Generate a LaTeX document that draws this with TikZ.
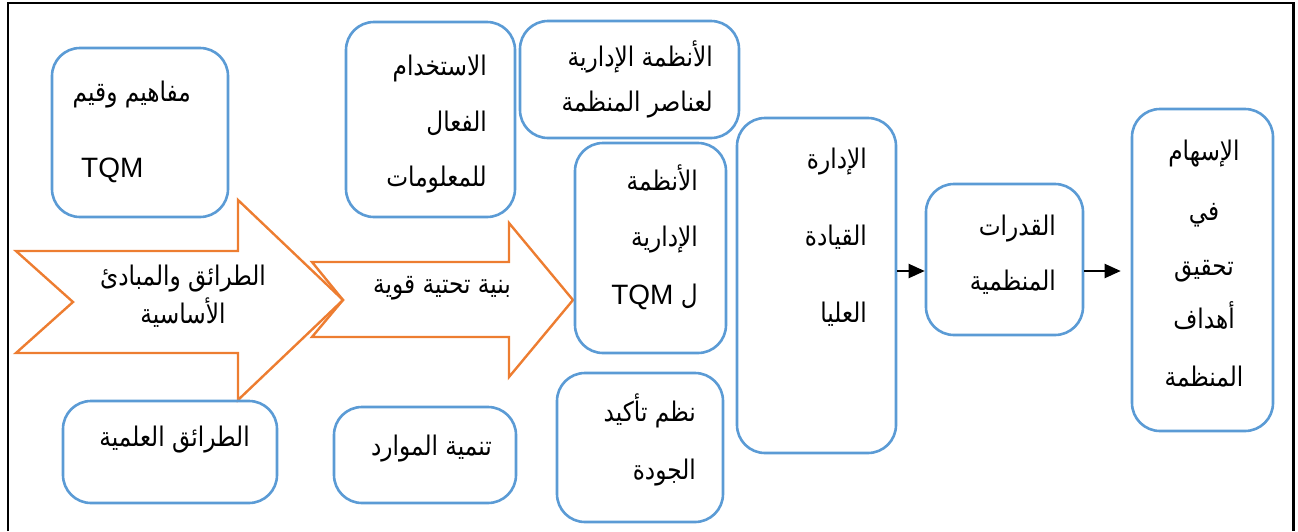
\documentclass[tikz,border=0pt]{standalone}
\usepackage{fontspec}
\setmainfont{Liberation Sans}
\newfontfamily\arabicfont[Script=Arabic, FakeStretch=0.86]{DejaVu Sans}
\TeXXeTstate=1
\usetikzlibrary{arrows.meta}
\definecolor{boxblue}{HTML}{5B9BD5}
\definecolor{arroworange}{HTML}{ED7D31}
% one right-to-left line of Arabic text
\newcommand{\artext}[1]{{\arabicfont\beginR #1\endR}}

\begin{document}
\begin{tikzpicture}[x=1pt,y=-1pt,
  box/.style={draw=boxblue, line width=2.6pt, rounded corners=28pt, rectangle, inner sep=0pt},
  lbl/.style={inner sep=0pt, text height=0.8em, text depth=0.2em, font=\fontsize{27}{31}\selectfont},
  latinlbl/.style={inner sep=0pt, text height=0.72em, text depth=0pt, font=\fontsize{28}{32}\selectfont},
  flowarrow/.style={draw=arroworange, line width=2.4pt, line join=miter},
  conn/.style={draw=black, line width=2pt, -{Triangle[length=16pt,width=14pt]}},
  frameline/.style={draw=black, line width=2.2pt}]

\useasboundingbox (0,0) rectangle (1298,531);

% outer frame (open at the bottom)
\draw[frameline] (7.7,531) -- (7.7,3.3) -- (1293.5,3.3) -- (1293.5,531);

% the two notched block arrows
\draw[flowarrow] (312,262) -- (509,262) -- (509,223) -- (573,300) -- (509,377)
  -- (509,337) -- (312,337) -- (343,300) -- cycle;
\draw[flowarrow] (16,251) -- (238,251) -- (238,200) -- (343,300) -- (238,400)
  -- (238,353) -- (16,353) -- (73,302) -- cycle;
\node[lbl] (a1l1) at (183,282) {\artext{الطرائق والمبادئ}};
\node[lbl] (a1l2) at (183,320) {\artext{الأساسية}};
\node[lbl] (a2l1) at (442,290) {\artext{بنية تحتية قوية}};

% rounded boxes
\node[box, minimum width=176pt, minimum height=169pt] (b1) at (140,132.5) {};
\node[box, minimum width=169pt, minimum height=195pt] (b2) at (430.5,119.5) {};
\node[box, minimum width=219pt, minimum height=117pt] (b3) at (629.5,79.5) {};
\node[box, minimum width=151pt, minimum height=210pt] (b4) at (650.5,248) {};
\node[box, minimum width=159pt, minimum height=335pt] (b5) at (816.5,285.5) {};
\node[box, minimum width=157pt, minimum height=151pt] (b6) at (1004.5,259.5) {};
\node[box, minimum width=141pt, minimum height=322pt] (b7) at (1202.5,270) {};
\node[box, minimum width=214pt, minimum height=102pt] (b8) at (170,452) {};
\node[box, minimum width=182pt, minimum height=96pt] (b9) at (425,455) {};
\node[box, minimum width=166pt, minimum height=149pt] (b10) at (640,447.5) {};

% box texts
\node[lbl, anchor=east] (b1l1) at (191,98) {\artext{مفاهيم وقيم}};
\node[latinlbl, anchor=west] (b1l2) at (81,174) {TQM};

\node[lbl, anchor=east] (b2l1) at (487,72) {\artext{الاستخدام}};
\node[lbl, anchor=east] (b2l2) at (487,128) {\artext{الفعال}};
\node[lbl, anchor=east] (b2l3) at (487,183) {\artext{للمعلومات}};

\node[lbl, anchor=east] (b3l1) at (713,63) {\artext{الأنظمة الإدارية}};
\node[lbl, anchor=east] (b3l2) at (713,108) {\artext{لعناصر المنظمة}};

\node[lbl, anchor=east] (b4l1) at (698,187) {\artext{الأنظمة}};
\node[lbl, anchor=east] (b4l2) at (698,243) {\artext{الإدارية}};
\node[lbl, anchor=east] (b4l3) at (698,301) {\artext{ل \beginL{\normalfont\fontsize{28}{32}\selectfont TQM}\endL}};

\node[lbl, anchor=east] (b5l1) at (867,165) {\artext{الإدارة}};
\node[lbl, anchor=east] (b5l2) at (867,242) {\artext{القيادة}};
\node[lbl, anchor=east] (b5l3) at (867,319) {\artext{العليا}};

\node[lbl, anchor=east] (b6l1) at (1056,232) {\artext{القدرات}};
\node[lbl, anchor=east] (b6l2) at (1056,287) {\artext{المنظمية}};

\node[lbl] (b7l1) at (1204,157) {\artext{الإسهام}};
\node[lbl] (b7l2) at (1204,217) {\artext{في}};
\node[lbl] (b7l3) at (1204,272) {\artext{تحقيق}};
\node[lbl] (b7l4) at (1204,325) {\artext{أهداف}};
\node[lbl] (b7l5) at (1204,383) {\artext{المنظمة}};

\node[lbl, anchor=east] (b8l1) at (250,443) {\artext{الطرائق العلمية}};
\node[lbl, anchor=east] (b9l1) at (492,452) {\artext{تنمية الموارد}};

\node[lbl, anchor=east] (b10l1) at (696,418) {\artext{نظم تأكيد}};
\node[lbl, anchor=east] (b10l2) at (696,476) {\artext{الجودة}};

% connectors
\coordinate (lvl) at (0,271);
\draw[conn] (b5.east |- lvl) -- (b6.west |- lvl);
\draw[conn, shorten >=10pt] (b6.east |- lvl) -- (b7.west |- lvl);

\end{tikzpicture}
\end{document}
